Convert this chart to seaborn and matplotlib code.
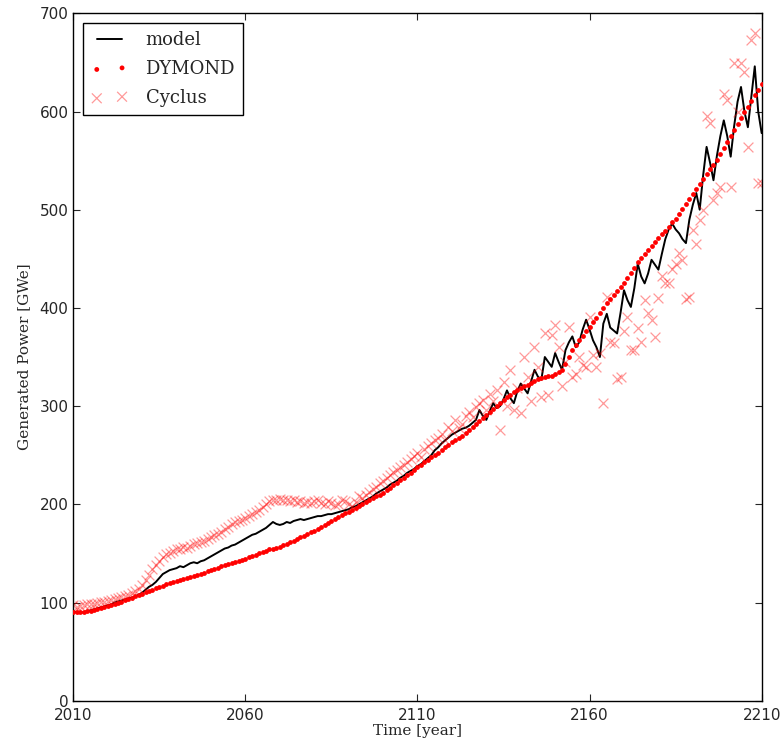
import numpy as np
import pandas as pd
import matplotlib
matplotlib.use("Agg")
import matplotlib.pyplot as plt
import seaborn as sns

years = list(range(2010, 2211))

dymond = [
    90, 90, 90, 90, 91, 91, 92, 93, 94, 95,
    96, 97, 99, 100, 101, 103, 104, 105, 107, 108,
    109, 111, 112, 113, 115, 116, 117, 119, 120, 121,
    122, 123, 124, 125, 126, 127, 128, 129, 130, 132,
    133, 134, 135, 137, 138, 139, 140, 141, 142, 143,
    144, 146, 147, 148, 150, 151, 152, 154, 155, 156,
    157, 159, 160, 162, 163, 165, 167, 168, 170, 172,
    173, 175, 177, 179, 181, 183, 185, 187, 189, 191,
    192, 194, 196, 198, 200, 202, 204, 206, 208, 210,
    212, 215, 217, 220, 222, 225, 227, 230, 232, 235,
    238, 240, 243, 245, 248, 250, 252, 255, 258, 260,
    263, 265, 268, 270, 273, 276, 279, 282, 285, 288,
    291, 294, 297, 300, 303, 306, 309, 311, 314, 316,
    318, 320, 322, 324, 326, 328, 329, 330, 331, 331,
    333, 335, 337, 343, 350, 357, 362, 367, 371, 376,
    381, 386, 390, 395, 400, 405, 409, 413, 417, 421,
    425, 430, 436, 441, 447, 451, 455, 459, 463, 467,
    471, 475, 478, 482, 487, 491, 496, 501, 506, 511,
    516, 521, 526, 531, 536, 541, 546, 551, 557, 563,
    569, 575, 581, 587, 593, 599, 605, 611, 617, 622,
    628,
]

model = [
    91, 90, 90, 90, 91, 92, 93, 94, 95, 96,
    97, 98, 100, 101, 102, 103, 104, 105, 106, 108,
    110, 113, 116, 118, 121, 125, 129, 131, 133, 134,
    135, 137, 136, 138, 140, 141, 140, 142, 143, 145,
    147, 149, 151, 153, 155, 156, 158, 159, 161, 163,
    165, 167, 169, 170, 172, 174, 176, 179, 182, 180,
    179, 180, 182, 181, 183, 184, 185, 184, 185, 186,
    187, 188, 188, 189, 190, 190, 191, 192, 193, 194,
    195, 197, 198, 200, 202, 204, 206, 208, 211, 213,
    215, 217, 220, 222, 224, 227, 229, 232, 234, 236,
    239, 241, 244, 247, 250, 255, 258, 262, 265, 268,
    271, 273, 275, 277, 278, 280, 283, 286, 296, 290,
    286, 295, 303, 298, 300, 307, 316, 308, 303, 315,
    323, 318, 313, 325, 337, 330, 327, 350, 345, 340,
    354, 345, 337, 357, 365, 371, 360, 365, 378, 388,
    378, 367, 360, 350, 384, 394, 380, 377, 374, 395,
    418, 408, 401, 420, 445, 432, 425, 435, 449, 444,
    439, 455, 470, 480, 486, 480, 476, 470, 466, 490,
    505, 517, 500, 535, 564, 548, 530, 555, 575, 591,
    575, 554, 585, 610, 625, 600, 584, 615, 646, 600,
    578,
]

cyclus = [
    97, 95, 96, 97, 98, 99, 99, 100, 101, 101,
    102, 103, 104, 105, 106, 107, 108, 110, 112, 114,
    118, 123, 128, 134, 138, 142, 146, 149, 150, 152,
    154, 155, 157, 156, 158, 160, 161, 162, 163, 165,
    167, 169, 170, 172, 175, 177, 180, 182, 183, 184,
    186, 188, 190, 192, 194, 197, 200, 203, 204, 204,
    205, 204, 204, 203, 204, 202, 203, 201, 202, 201,
    203, 204, 201, 200, 203, 201, 199, 200, 204, 203,
    200, 198, 202, 208, 206, 210, 213, 216, 218, 222,
    224, 227, 230, 233, 235, 238, 240, 243, 246, 249,
    252, 248, 256, 259, 262, 265, 268, 272, 266, 279,
    275, 286, 278, 282, 290, 294, 289, 299, 303, 306,
    296, 312, 305, 316, 276, 325, 300, 337, 296, 318,
    293, 350, 330, 305, 360, 340, 309, 374, 311, 372,
    383, 360, 320, 345, 381, 330, 333, 350, 342, 340,
    391, 352, 340, 354, 303, 411, 365, 364, 328, 330,
    377, 391, 357, 357, 380, 365, 408, 395, 388, 370,
    410, 432, 425, 425, 440, 445, 456, 449, 409, 411,
    479, 465, 490, 500, 595, 588, 510, 517, 523, 618,
    612, 523, 649, 600, 649, 640, 564, 673, 680, 527,
    527,
]

x_ticks = [2010, 2060, 2110, 2160, 2210]
y_ticks = [0, 100, 200, 300, 400, 500, 600, 700]

df = pd.DataFrame({"year": years, "model": model, "DYMOND": dymond, "Cyclus": cyclus})

sns.set_style("ticks", {"xtick.direction": "in", "ytick.direction": "in"})
plt.rcParams["font.family"] = ["DejaVu Sans"]
plt.rcParams["xtick.top"] = True
plt.rcParams["ytick.right"] = True

fig = plt.figure(figsize=(7.84, 7.48), dpi=100)
ax = fig.add_axes([0.0935, 0.0632, 0.878, 0.919])

sns.lineplot(data=df, x="year", y="model", ax=ax, color="black", linewidth=1.4,
             label="model")
sns.scatterplot(data=df, x="year", y="DYMOND", ax=ax, color="red", marker="o",
                s=12, linewidth=0, label="DYMOND", zorder=3)
sns.scatterplot(data=df, x="year", y="Cyclus", ax=ax, color="red", marker="x",
                s=50, linewidth=0.9, alpha=0.4, label="Cyclus", zorder=2)

ax.set_xlim(2010, 2210)
ax.set_ylim(0, 700)
ax.set_xticks(x_ticks)
ax.set_yticks(y_ticks)
ax.tick_params(axis="both", labelsize=11, length=5, width=0.8)
ax.tick_params(axis="x", pad=5)
for s in ax.spines.values():
    s.set_linewidth(1.0)
    s.set_color("black")

ax.set_xlabel("Time [year]", family="DejaVu Serif", fontsize=11, labelpad=1)
ax.set_ylabel("Generated Power [GWe]", family="DejaVu Serif", fontsize=11, labelpad=6)

leg = ax.legend(loc="upper left", scatterpoints=2, numpoints=2, fancybox=False,
                prop={"family": "DejaVu Serif", "size": 13}, borderaxespad=0.55,
                handlelength=2.0, handletextpad=1.0, labelspacing=0.6,
                borderpad=0.45, framealpha=1)
leg.get_frame().set_edgecolor("black")
leg.get_frame().set_linewidth(1.0)

fig.savefig("out.png", dpi=100)
